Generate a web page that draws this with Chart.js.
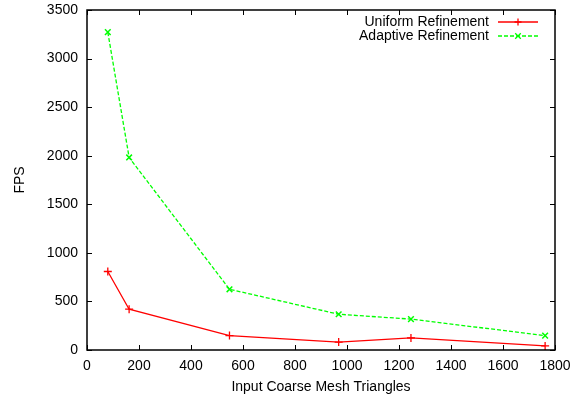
<!DOCTYPE html>
<html>
<head>
<meta charset="utf-8">
<script src="https://cdn.jsdelivr.net/npm/chart.js@4/dist/chart.umd.min.js"></script>
<style>
html,body{margin:0;padding:0;background:#fff;}
#wrap{width:584px;height:396px;position:relative;}
</style>
</head>
<body>
<div id="wrap"><canvas id="c" width="584" height="396"></canvas></div>
<script>
const triangles = [80, 162, 548, 968, 1246, 1762];
const uniformFPS = [808, 420, 148, 82, 124, 42];
const adaptiveFPS = [3272, 1982, 625, 368, 318, 148];
const xTicks = [0, 200, 400, 600, 800, 1000, 1200, 1400, 1600, 1800];
const yTicks = [0, 500, 1000, 1500, 2000, 2500, 3000, 3500];
const seriesNames = ['Uniform Refinement', 'Adaptive Refinement'];

const FONT = 'Liberation Sans, Arial, sans-serif';
const FS = 14;

const toPts = (xs, ys) => xs.map((x, i) => ({x: x, y: ys[i]}));

const frameAndTicks = {
  id: 'frameAndTicks',
  afterDatasetsDraw(chart) {
    const ctx = chart.ctx, a = chart.chartArea;
    const xs = chart.scales.x, ys = chart.scales.y;
    ctx.save();
    ctx.strokeStyle = '#000';
    ctx.lineWidth = 1;
    ctx.beginPath();
    const L = 5;
    xTicks.forEach(v => {
      const p = Math.round(xs.getPixelForValue(v)) + 0.5;
      ctx.moveTo(p, a.bottom); ctx.lineTo(p, a.bottom - L);
      ctx.moveTo(p, a.top); ctx.lineTo(p, a.top + L);
    });
    yTicks.forEach(v => {
      const p = Math.round(ys.getPixelForValue(v)) + 0.5;
      ctx.moveTo(a.left, p); ctx.lineTo(a.left + L, p);
      ctx.moveTo(a.right, p); ctx.lineTo(a.right - L, p);
    });
    ctx.stroke();
    ctx.lineWidth = 1.5;
    ctx.strokeRect(a.left, a.top, a.right - a.left, a.bottom - a.top);
    // legend
    ctx.font = FS + 'px ' + FONT;
    ctx.textAlign = 'right';
    ctx.textBaseline = 'middle';
    ctx.fillStyle = '#000';
    chart.data.datasets.forEach((ds, i) => {
      const y = a.top + 12 + i * 14;
      ctx.fillText(ds.label, 489, y);
      ctx.save();
      ctx.strokeStyle = ds.borderColor;
      ctx.lineWidth = ds.borderWidth;
      ctx.setLineDash(ds.borderDash || []);
      ctx.beginPath();
      ctx.moveTo(498, y); ctx.lineTo(538, y);
      ctx.stroke();
      ctx.setLineDash([]);
      ctx.beginPath();
      const r = 3.5, cx = 518;
      if (ds.pointStyle === 'cross') {
        ctx.moveTo(cx - r, y); ctx.lineTo(cx + r, y);
        ctx.moveTo(cx, y - r); ctx.lineTo(cx, y + r);
      } else {
        ctx.moveTo(cx - r * 0.8, y - r * 0.8); ctx.lineTo(cx + r * 0.8, y + r * 0.8);
        ctx.moveTo(cx - r * 0.8, y + r * 0.8); ctx.lineTo(cx + r * 0.8, y - r * 0.8);
      }
      ctx.stroke();
      ctx.restore();
    });
    ctx.restore();
  }
};

new Chart(document.getElementById('c'), {
  type: 'scatter',
  data: {
    datasets: [
      {
        label: seriesNames[0],
        data: toPts(triangles, uniformFPS),
        showLine: true,
        borderColor: '#ff0000',
        backgroundColor: '#ff0000',
        borderWidth: 1.3,
        pointStyle: 'cross',
        pointRadius: 4,
        pointBorderWidth: 1.3,
        tension: 0
      },
      {
        label: seriesNames[1],
        data: toPts(triangles, adaptiveFPS),
        showLine: true,
        borderColor: '#00ff00',
        backgroundColor: '#00ff00',
        borderWidth: 1.3,
        borderDash: [4, 2],
        pointStyle: 'crossRot',
        pointRadius: 4,
        pointBorderWidth: 1.5,
        tension: 0
      }
    ]
  },
  options: {
    responsive: false,
    animation: false,
    layout: {padding: {top: 10, right: 29, left: 12, bottom: 0}},
    plugins: {legend: {display: false}, tooltip: {enabled: false}},
    scales: {
      x: {
        type: 'linear', min: 0, max: 1800,
        afterBuildTicks: s => { s.ticks = xTicks.map(v => ({value: v})); },
        afterFit: s => { s.height = 46; },
        grid: {display: false, drawTicks: false},
        border: {display: false},
        ticks: {color: '#000', font: {family: FONT, size: FS}, padding: 8, maxRotation: 0, callback: v => String(v)},
        title: {display: true, text: 'Input Coarse Mesh Triangles', color: '#000', font: {family: FONT, size: FS}, padding: {top: 2, bottom: 0}}
      },
      y: {
        type: 'linear', min: 0, max: 3500,
        afterBuildTicks: s => { s.ticks = yTicks.map(v => ({value: v})); },
        afterFit: s => { s.width = 75; s.paddingTop = 0; },
        grid: {display: false, drawTicks: false},
        border: {display: false},
        ticks: {color: '#000', font: {family: FONT, size: FS}, padding: 9, callback: v => String(v)},
        title: {display: true, text: 'FPS', color: '#000', font: {family: FONT, size: FS}, padding: {top: 0, bottom: 0}}
      }
    }
  },
  plugins: [frameAndTicks]
});
</script>
</body>
</html>
